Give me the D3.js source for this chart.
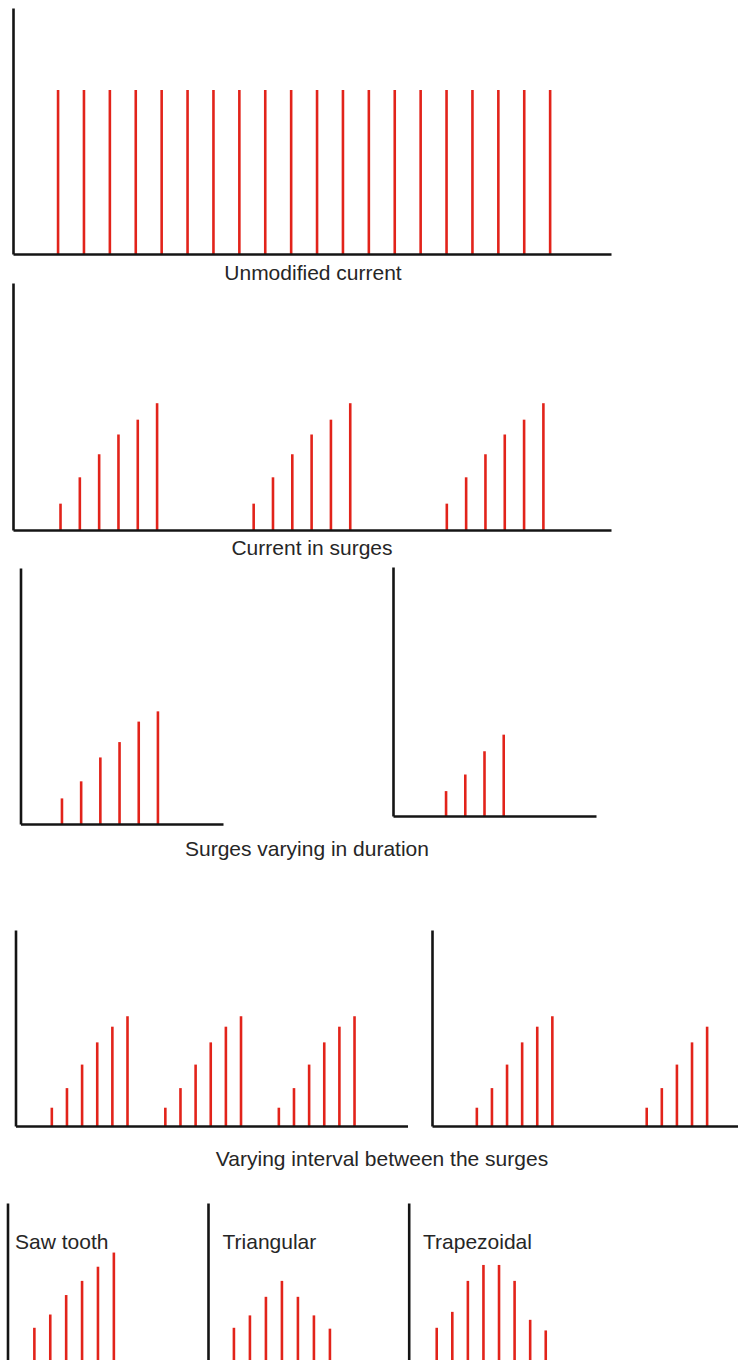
<!DOCTYPE html>
<html>
<head>
<meta charset="utf-8">
<script src="https://cdn.jsdelivr.net/npm/d3@7"></script>
<style>
  html, body { margin: 0; padding: 0; background: #ffffff; }
  svg { display: block; }
  text { font-family: "Liberation Sans", Arial, sans-serif; fill: #262626; }
</style>
</head>
<body>
<svg id="chart" width="738" height="1360"></svg>
<script>
// ---------- DATA ----------
// Panel 1: Unmodified current
const unmodTimes = [0,1,2,3,4,5,6,7,8,9,10,11,12,13,14,15,16,17,18,19];
const unmodAmps  = [10,10,10,10,10,10,10,10,10,10,10,10,10,10,10,10,10,10,10,10];

// Panel 2: Current in surges
const surgeTimes = [0,1,2,3,4,5, 10,11,12,13,14,15, 20,21,22,23,24,25];
const surgeAmps  = [1.6,3.2,4.6,5.8,6.7,7.7, 1.6,3.2,4.6,5.8,6.7,7.7, 1.6,3.2,4.6,5.8,6.7,7.7];

// Panel 3: Surges varying in duration
const durLongTimes  = [0,1,2,3,4,5];
const durLongAmps   = [1.5,2.5,3.9,4.8,6.0,6.6];
const durShortTimes = [0,1,2,3];
const durShortAmps  = [1.5,2.5,3.9,4.9];

// Panel 4: Varying interval between the surges
const intShortTimes = [0,1,2,3,4,5, 7.5,8.5,9.5,10.5,11.5,12.5, 15,16,17,18,19,20];
const intShortAmps  = [1.4,2.9,4.7,6.4,7.6,8.4, 1.4,2.9,4.7,6.4,7.6,8.4, 1.4,2.9,4.7,6.4,7.6,8.4];
const intLongTimes  = [0,1,2,3,4,5, 11.25,12.25,13.25,14.25,15.25];
const intLongAmps   = [1.4,2.9,4.7,6.4,7.6,8.4, 1.4,2.9,4.7,6.4,7.6];

// Panel 5: surge shapes
const sawTimes  = [0,1,2,3,4,5];
const sawAmps   = [2.95,3.7,4.8,5.6,6.4,7.2];
const triTimes  = [0,1,2,3,4,5,6];
const triAmps   = [2.95,3.65,4.7,5.6,4.7,3.65,2.9];
const trapTimes = [0,1,2,3,4,5,6,7];
const trapAmps  = [2.95,3.85,5.6,6.5,6.5,5.6,3.4,2.8];

// Labels
const panelTitles = ["Unmodified current", "Current in surges", "Surges varying in duration", "Varying interval between the surges"];
const shapeTitles = ["Saw tooth", "Triangular", "Trapezoidal"];

// ---------- DRAW ----------
const svg = d3.select("#chart");
const RED = "#e2231a";
const AX = "#141414";

function drawPanel(cfg) {
  const g = svg.append("g");
  const x = d3.scaleLinear().domain(cfg.xDomain).range([cfg.x0, cfg.x1]);
  const y = d3.scaleLinear().domain(cfg.yDomain).range([cfg.base, cfg.top]);

  g.selectAll("line.pulse")
    .data(cfg.times.map((t, i) => ({ t, a: cfg.amps[i] })))
    .join("line")
    .attr("class", "pulse")
    .attr("x1", d => x(d.t)).attr("x2", d => x(d.t))
    .attr("y1", y(0)).attr("y2", d => y(d.a))
    .attr("stroke", RED).attr("stroke-width", 2.6);

  // x axis
  const xa = g.append("g").attr("transform", `translate(0,${y(0)})`)
    .call(d3.axisBottom(x).ticks(0).tickSize(0).tickSizeOuter(0));
  xa.select(".domain").attr("stroke", AX).attr("stroke-width", 2.6);
  xa.selectAll("text").remove();

  // y axis
  const ya = g.append("g").attr("transform", `translate(${cfg.x0},0)`)
    .call(d3.axisLeft(y).ticks(0).tickSize(0).tickSizeOuter(0));
  ya.select(".domain").attr("stroke", AX).attr("stroke-width", 2.6);
  ya.selectAll("text").remove();
  return { x, y };
}

// Panel 1
drawPanel({ x0: 13, x1: 611, top: 8, base: 254, xDomain: [-1.74, 21.35], yDomain: [0, 15],
  times: unmodTimes, amps: unmodAmps });
// Panel 2
drawPanel({ x0: 13, x1: 611, top: 283, base: 530, xDomain: [-2.46, 28.5], yDomain: [0, 15],
  times: surgeTimes, amps: surgeAmps });
// Panel 3
drawPanel({ x0: 20.5, x1: 223, top: 568, base: 824, xDomain: [-2.16, 8.39], yDomain: [0, 15],
  times: durLongTimes, amps: durLongAmps });
drawPanel({ x0: 393, x1: 596, top: 567, base: 816, xDomain: [-2.76, 7.8], yDomain: [0, 15],
  times: durShortTimes, amps: durShortAmps });
// Panel 4
drawPanel({ x0: 15.5, x1: 407.5, top: 930, base: 1126, xDomain: [-2.4, 23.5], yDomain: [0, 15],
  times: intShortTimes, amps: intShortAmps });
drawPanel({ x0: 432, x1: 742, top: 930, base: 1126, xDomain: [-2.97, 17.56], yDomain: [0, 15],
  times: intLongTimes, amps: intLongAmps });
// Panel 5
drawPanel({ x0: 7.5, x1: 180, top: 1203, base: 1380, xDomain: [-1.69, 9.16], yDomain: [0, 10],
  times: sawTimes, amps: sawAmps });
drawPanel({ x0: 208, x1: 380, top: 1203, base: 1380, xDomain: [-1.62, 9.13], yDomain: [0, 10],
  times: triTimes, amps: triAmps });
drawPanel({ x0: 408.7, x1: 580, top: 1203, base: 1380, xDomain: [-1.8, 9.2], yDomain: [0, 10],
  times: trapTimes, amps: trapAmps });

// Titles
const titlePos = [[313, 280], [312, 555], [307, 856], [382, 1166]];
panelTitles.forEach((t, i) => {
  svg.append("text").attr("x", titlePos[i][0]).attr("y", titlePos[i][1])
    .attr("text-anchor", "middle").attr("font-size", 21).text(t);
});
const shapePos = [[15, 1249], [222.5, 1249], [423, 1249]];
shapeTitles.forEach((t, i) => {
  svg.append("text").attr("x", shapePos[i][0]).attr("y", shapePos[i][1])
    .attr("font-size", 21).text(t);
});
</script>
</body>
</html>
